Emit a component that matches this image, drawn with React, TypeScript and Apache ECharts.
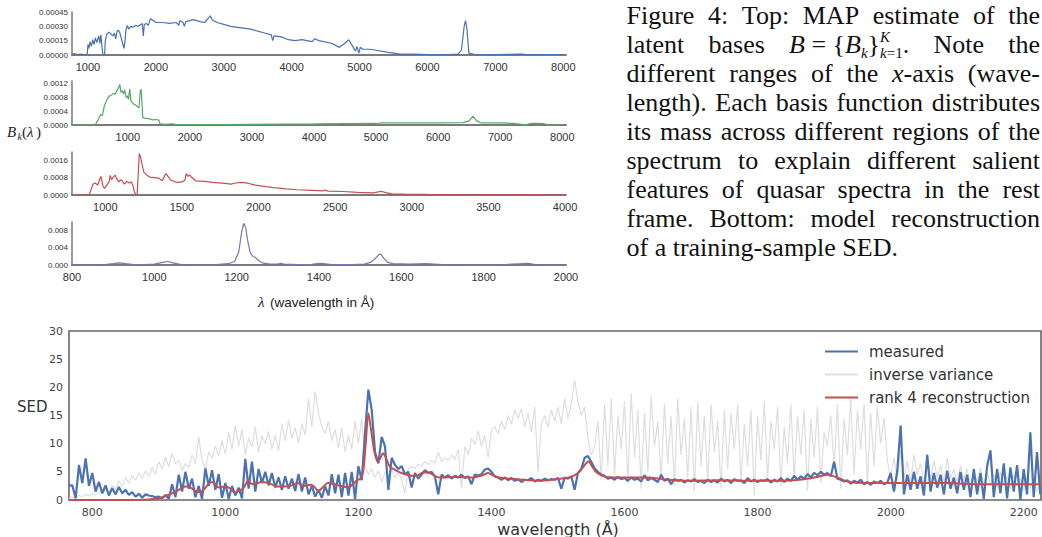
import React, { useEffect, useRef } from "react";
import * as echarts from "echarts";

// ---------------- Top panels: latent bases B_k(λ) ----------------
const basis1: number[][] = [
  [770, 0.00001], [800, 0.000015], [850, 0.000005], [900, 0.00001], [950, 0.000002], [990, 0.00001],
  [1000, 0.00011], [1015, 0.00007], [1030, 0.00014], [1050, 0.00009], [1070, 0.00016], [1090, 0.00011],
  [1110, 0.00018], [1130, 0.00013], [1160, 0.0002], [1175, 0.00012], [1190, 0.00021], [1215, 0.00003],
  [1225, 0], [1245, 0], [1255, 0.00015], [1280, 0.00022], [1310, 0.00024], [1340, 0.00022], [1370, 0.0002],
  [1390, 0.00023], [1410, 0.00017], [1430, 0.00025], [1450, 0.00026], [1470, 0.00023], [1490, 0.00018],
  [1510, 0.00012], [1530, 0.00007], [1545, 0.00014], [1560, 0.00027], [1580, 0.00031], [1600, 0.00027],
  [1630, 0.0003], [1660, 0.00029], [1700, 0.00031], [1740, 0.0003], [1780, 0.00032], [1800, 0.00033],
  [1815, 0.0002], [1830, 0.00032], [1860, 0.00033], [1890, 0.00031], [1920, 0.00038], [1960, 0.00036],
  [2000, 0.00034], [2100, 0.00034], [2200, 0.00033], [2300, 0.00034], [2340, 0.00031], [2350, 0.00036],
  [2400, 0.00034], [2420, 0.0003], [2440, 0.00035], [2500, 0.00036], [2550, 0.00037], [2650, 0.00035],
  [2720, 0.00034], [2780, 0.00039], [2800, 0.00041], [2830, 0.00037], [2900, 0.00034], [3000, 0.00032],
  [3100, 0.0003], [3200, 0.00029], [3400, 0.00027], [3600, 0.00023], [3700, 0.00021], [3720, 0.00015],
  [3740, 0.0002], [3850, 0.00019], [3950, 0.00016], [4050, 0.00015], [4150, 0.00016], [4300, 0.00014],
  [4340, 0.00017], [4400, 0.00015], [4600, 0.00012], [4700, 0.00008], [4780, 0.00012], [4840, 0.00016],
  [4900, 0.00009], [4940, 0.00004], [4960, 0.00009], [4990, 0.00002], [5010, 0.00008], [5050, 0.00006],
  [5150, 0.00006], [5250, 0.00005], [5400, 0.00003], [5600, 0.00001], [5800, 0.00001], [6000, 0.000005],
  [6300, 0.000003], [6450, 0.00001], [6500, 0.00005], [6540, 0.0003], [6560, 0.00036], [6580, 0.00028],
  [6610, 0.00002], [6700, 0.000005], [7000, 0.000003], [7400, 0.00001], [7450, 0.000003], [8000, 0.000005],
];

const basis2: number[][] = [
  [100, 0], [450, 0], [480, 0.00002], [520, 0.00015], [560, 0.0003], [590, 0.00028], [620, 0.00055],
  [650, 0.00068], [680, 0.0008], [710, 0.00085], [740, 0.00088], [770, 0.00092], [800, 0.0009],
  [820, 0.001], [850, 0.00108], [870, 0.00118], [890, 0.00095], [910, 0.001], [930, 0.0009], [950, 0.00102],
  [970, 0.0008], [990, 0.00085], [1010, 0.00075], [1030, 0.00105], [1050, 0.0007], [1070, 0.00065],
  [1100, 0.0006], [1130, 0.00058], [1160, 0.00052], [1180, 0.0005], [1200, 0.00098], [1215, 0.00104],
  [1240, 0.00022], [1270, 0.0002], [1300, 0.00019], [1350, 0.00018], [1400, 0.00015], [1450, 0.00016],
  [1500, 0.00014], [1520, 0.00003], [1600, 0.00002], [1700, 0.00003], [1800, 0.00001], [2000, 0.00001],
  [2500, 0.000015], [3000, 0.00002], [3500, 0.000025], [4000, 0.00003], [4500, 0.00004], [5000, 0.00005],
  [5020, 0.00003], [5060, 0.00006], [5500, 0.00006], [6000, 0.00006], [6400, 0.00007], [6500, 0.00012],
  [6560, 0.00026], [6620, 0.00012], [6700, 0.00006], [7000, 0.00006], [7200, 0.00005], [7350, 0.00002],
  [7420, 0.00001], [7500, 0.00005], [7600, 0.00005], [7700, 0.00004], [7760, 0.000005], [8000, 0],
];

const basis3: number[][] = [
  [783, 0], [895, 0], [905, 0.0002], [920, 0.0005], [935, 0.00055], [950, 0.00045], [965, 0.00075],
  [972, 0.00085], [985, 0.0004], [995, 0.0003], [1010, 0.00045], [1025, 0.0006], [1032, 0.0009],
  [1042, 0.0007], [1055, 0.00085], [1065, 0.0009], [1078, 0.0007], [1090, 0.0006], [1100, 0.0007],
  [1110, 0.00065], [1125, 0.0005], [1140, 0.00062], [1155, 0.00055], [1170, 0.0006], [1180, 0.00045],
  [1190, 0.00015], [1200, 0], [1208, 0], [1214, 0.0008], [1222, 0.0019], [1230, 0.00175], [1240, 0.0014],
  [1252, 0.00105], [1270, 0.00092], [1290, 0.00082], [1320, 0.0008], [1350, 0.00077], [1372, 0.00065],
  [1385, 0.00085], [1395, 0.00098], [1405, 0.0009], [1425, 0.0007], [1450, 0.00062], [1470, 0.00058],
  [1500, 0.0006], [1520, 0.00068], [1528, 0.00098], [1540, 0.00085], [1550, 0.00092], [1565, 0.0008],
  [1590, 0.00065], [1650, 0.00062], [1700, 0.00058], [1780, 0.00053], [1820, 0.0005], [1850, 0.00055],
  [1890, 0.00058], [1930, 0.00054], [1980, 0.00045], [2050, 0.00038], [2100, 0.00034], [2180, 0.00028],
  [2250, 0.00024], [2350, 0.00021], [2420, 0.00019], [2435, 0.00023], [2450, 0.00018], [2550, 0.00016],
  [2650, 0.00012], [2750, 0.0001], [2780, 0.00014], [2800, 0.00017], [2830, 0.00011], [2870, 0.00005],
  [2950, 0.00004], [3100, 0.000025], [3300, 0.000015], [3500, 0.00001], [3700, 0.000005], [4000, 0],
];

const basis4: number[][] = [
  [800, 0.00002], [850, 0.00004], [880, 0.0001], [900, 0.0003], [915, 0.0005], [930, 0.0003], [950, 0.0001],
  [975, 0.0001], [1000, 0.0002], [1020, 0.0006], [1033, 0.0008], [1045, 0.0005], [1065, 0.0001],
  [1100, 0.00005], [1150, 0.0001], [1180, 0.0003], [1195, 0.0008], [1205, 0.003], [1212, 0.0075],
  [1217, 0.0096], [1222, 0.0085], [1227, 0.0055], [1233, 0.0028], [1240, 0.0019], [1245, 0.0018],
  [1252, 0.0011], [1262, 0.0005], [1280, 0.0002], [1300, 0.0002], [1306, 0.0004], [1315, 0.0002],
  [1350, 0.00008], [1380, 0.0001], [1400, 0.0004], [1410, 0.0003], [1430, 0.0001], [1480, 0.0001],
  [1510, 0.0002], [1525, 0.0006], [1535, 0.0013], [1545, 0.0024], [1550, 0.0025], [1557, 0.0016],
  [1567, 0.0006], [1580, 0.0003], [1620, 0.0002], [1660, 0.0003], [1700, 0.0001], [1800, 0.00005],
  [1850, 0.0001], [1890, 0.0003], [1908, 0.0004], [1925, 0.0001], [1960, 0.00003], [2000, 0.00002],
];

const basisXTicks: number[][] = [
  [1000, 2000, 3000, 4000, 5000, 6000, 7000, 8000],
  [1000, 2000, 3000, 4000, 5000, 6000, 7000, 8000],
  [1000, 1500, 2000, 2500, 3000, 3500, 4000],
  [800, 1000, 1200, 1400, 1600, 1800, 2000],
];
const basisYTicks: number[][] = [
  [0, 0.00015, 0.0003, 0.00045],
  [0, 0.0004, 0.0008, 0.0012],
  [0, 0.0008, 0.0016],
  [0, 0.004, 0.008],
];
const basisYDecimals = [5, 4, 4, 3];
const basisXRange: number[][] = [[765, 8040], [100, 8060], [783, 4006], [800, 2000]];
const basisYMax = [0.00045, 0.00128, 0.00197, 0.0099];

// ---------------- Bottom panel: SED reconstruction ----------------
const sedStart = 765;
const sedStep = 5;
const measured: number[] = [
  2.6, 2.6, 0.3, 6.2, 3.0, 7.4, 2.5, 4.8, 1.5, 3.2,
  1.2, 2.6, 0.8, 2.1, 1.0, 2.3, 1.2, 1.8, 0.9, 1.4,
  0.6, 1.1, 0.4, 1.0, 0.8, 0.7, 0.5, 0.6, 0.3, 0.9,
  0.2, 2.8, 0.5, 4.5, 1.5, 5.0, 2.0, 3.8, 0.5, 2.5,
  0.2, 5.6, 2.5, 5.3, 1.8, 4.6, 0.4, 3.0, 0.2, 2.5,
  0.8, 2.2, 0.3, 7.3, 2.0, 6.8, 1.5, 5.5, 3.0, 5.0,
  2.6, 4.8, 2.2, 4.0, 1.8, 4.2, 2.0, 3.8, 1.6, 4.6,
  1.5, 4.0, 1.0, 2.5, 0.6, 1.8, 0.4, 2.4, 0.8, 4.6,
  1.2, 4.5, 0.5, 4.8, 0.8, 5.0, 0.2, 6.0, 3.5, 12.0,
  19.6, 16.0, 8.5, 6.5, 11.2, 9.5, 1.8, 7.5, 6.2, 5.5,
  6.0, 4.6, 5.0, 2.2, 4.8, 3.8, 4.5, 5.3, 4.8, 5.0,
  4.2, 1.0, 4.5, 4.0, 4.4, 3.8, 4.3, 4.0, 4.5, 3.9,
  4.2, 2.8, 4.5, 4.3, 4.6, 5.4, 5.6, 5.0, 4.2, 4.0,
  3.6, 4.0, 3.5, 3.9, 3.4, 3.7, 3.2, 3.6, 3.5, 3.9,
  3.3, 3.6, 3.4, 3.8, 3.5, 3.7, 3.6, 3.9, 2.0, 4.0,
  3.8, 4.2, 1.8, 4.8, 5.5, 7.5, 7.8, 6.8, 5.6, 5.0,
  4.5, 4.3, 3.8, 4.0, 3.6, 4.1, 3.7, 3.9, 3.4, 4.0,
  3.6, 3.8, 3.3, 4.4, 3.5, 3.9, 3.6, 3.2, 4.5, 3.4,
  3.8, 2.8, 3.7, 3.4, 3.6, 3.1, 3.5, 3.3, 3.7, 3.2,
  3.4, 3.0, 3.6, 3.2, 3.5, 3.1, 3.8, 3.3, 3.6, 3.0,
  3.7, 3.4, 3.5, 3.0, 3.9, 3.3, 3.6, 3.2, 3.5, 3.4,
  3.7, 3.1, 3.6, 3.3, 3.9, 3.2, 3.8, 3.4, 4.3, 3.6,
  4.2, 3.8, 4.6, 4.0, 4.8, 4.4, 5.0, 4.5, 4.8, 4.2,
  6.8, 3.8, 3.6, 3.3, 3.5, 2.9, 3.4, 3.1, 3.6, 2.8,
  3.2, 2.7, 3.3, 3.0, 3.4, 2.8, 3.1, 4.8, 1.5, 5.2,
  13.2, 1.0, 4.5, 1.8, 5.0, 2.0, 4.2, 0.8, 8.0, 1.5,
  4.8, 2.2, 4.5, 1.0, 5.2, 2.0, 4.0, 1.2, 5.0, 1.8,
  4.5, 0.5, 5.5, 1.0, 4.8, 0.2, 6.0, 8.8, 0.5, 5.5,
  1.2, 6.5, 0.3, 5.8, 1.5, 6.2, 0.0, 5.5, 1.0, 12.0,
  0.5, 8.5, 1.0,
];
const inverseVariance: number[] = [
  0.3, 0.5, 0.4, 0.8, 0.6, 1.0, 0.7, 1.2, 0.9, 1.5,
  1.1, 1.8, 1.4, 2.6, 1.9, 3.4, 2.4, 4.0, 3.0, 4.4,
  3.5, 4.8, 3.8, 5.2, 4.2, 5.8, 4.6, 6.8, 5.5, 7.6,
  5.9, 8.2, 6.4, 7.0, 5.2, 6.5, 5.8, 8.0, 6.4, 11.2,
  7.0, 5.5, 8.5, 7.4, 9.6, 7.8, 10.5, 8.2, 12.0, 9.0,
  13.2, 9.5, 12.5, 8.0, 11.0, 9.4, 13.0, 8.5, 11.4, 10.0,
  12.2, 9.0, 11.5, 8.8, 13.5, 10.5, 14.2, 11.0, 12.8, 10.2,
  13.6, 11.5, 18.0, 13.0, 19.3, 15.5, 13.0, 11.8, 14.0, 10.5,
  12.5, 9.2, 12.8, 8.5, 11.5, 9.0, 14.0, 10.0, 14.5, 6.0,
  4.5, 5.5, 4.0, 5.2, 3.2, 5.0, 4.2, 5.4, 4.0, 5.0,
  3.5, 1.2, 5.5, 6.0, 5.6, 6.4, 6.0, 6.8, 6.3, 7.0,
  6.6, 8.5, 6.8, 7.5, 7.0, 8.0, 7.2, 9.0, 2.0, 9.5,
  8.0, 11.0, 9.8, 12.3, 9.5, 11.5, 7.5, 12.5, 13.0, 11.8,
  14.0, 12.5, 15.0, 13.5, 16.0, 14.5, 16.2, 13.0, 15.5, 12.0,
  16.5, 5.0, 13.5, 15.0, 13.0, 16.0, 14.0, 16.5, 13.5, 18.0,
  14.5, 17.0, 21.3, 17.5, 15.0, 16.5, 11.0, 8.0, 9.5, 14.0,
  3.5, 17.0, 6.0, 18.0, 4.5, 15.0, 9.0, 17.5, 3.0, 19.0,
  7.5, 16.0, 2.0, 15.5, 5.0, 18.5, 9.5, 14.0, 3.5, 17.0,
  6.5, 15.0, 2.5, 18.0, 8.0, 14.5, 4.0, 16.5, 1.5, 17.5,
  6.0, 15.0, 3.0, 17.0, 8.5, 14.0, 2.0, 16.0, 5.5, 15.5,
  9.0, 17.0, 3.0, 13.5, 6.0, 16.0, 0.8, 15.0, 7.0, 17.5,
  3.5, 14.0, 9.0, 16.5, 2.5, 13.0, 6.5, 17.0, 4.0, 15.0,
  8.0, 16.0, 1.5, 14.5, 7.5, 16.5, 3.0, 12.0, 9.5, 15.0,
  5.5, 17.0, 2.0, 14.5, 8.0, 18.0, 4.5, 16.0, 9.0, 17.0,
  3.0, 15.5, 6.0, 16.5, 10.0, 14.5, 7.0, 4.0, 7.5, 3.5,
  8.6, 4.0, 7.0, 3.0, 8.0, 4.5, 6.5, 2.8, 8.2, 3.5,
  7.0, 4.0, 6.2, 3.0, 7.5, 3.8, 5.5, 3.2, 6.0, 3.5,
  5.5, 2.8, 5.0, 3.2, 5.8, 2.5, 4.8, 3.0, 4.5, 2.2,
  5.0, 2.8, 4.2, 2.0, 4.6, 2.5, 3.8, 1.8, 4.0, 2.2,
  3.5, 1.5, 3.0,
];
const reconWavelength: number[] = [
  765, 800, 850, 880, 900, 910, 920, 930, 940, 945, 950, 955, 962, 968, 975, 980, 985, 990, 1000, 1008,
  1014, 1020, 1028, 1034, 1039, 1044, 1054, 1065, 1079, 1090, 1100, 1109, 1118, 1129, 1134, 1140, 1147,
  1154, 1162, 1169, 1178, 1184, 1190, 1197, 1203, 1207, 1211, 1215, 1219, 1224, 1229, 1233, 1237, 1241,
  1247, 1257, 1267, 1280, 1290, 1297, 1305, 1313, 1322, 1347, 1372, 1387, 1395, 1402, 1410, 1437, 1460,
  1472, 1497, 1517, 1525, 1532, 1540, 1546, 1551, 1557, 1565, 1572, 1597, 1637, 1657, 1697, 1742, 1785,
  1835, 1870, 1890, 1905, 1915, 1935, 1960, 2010, 2085, 2135, 2185, 2226,
];
const reconValue: number[] = [
  0, 0, 0, 0.05, 0.3, 0.7, 1.2, 1.8, 2.4, 2.4, 2.0, 1.6, 1.4, 1.9, 2.9, 3.2, 2.8, 2.2, 2.4, 2.0,
  1.3, 1.6, 2.2, 3.4, 2.9, 2.8, 3.2, 3.0, 2.4, 2.4, 2.6, 3.0, 2.5, 2.7, 2.3, 1.6, 2.3,
  3.0, 2.9, 2.6, 2.4, 2.2, 2.6, 3.4, 3.8, 5.0, 10.0, 15.4, 12.5, 8.6, 6.8, 7.4, 8.3, 7.6,
  6.0, 5.2, 4.7, 4.3, 4.4, 4.9, 4.9, 4.4, 4.0, 4.1, 4.0, 4.4, 4.8, 4.4, 4.0, 3.7, 3.5,
  3.4, 3.7, 4.0, 4.4, 5.0, 6.2, 6.9, 6.0, 5.0, 4.4, 4.1, 4.0, 4.0, 3.7, 3.4, 3.5, 3.4,
  3.4, 3.7, 4.1, 4.5, 4.2, 3.3, 3.0, 3.0, 3.0, 2.8, 2.8, 2.8,
];
const sedXTicks = [800, 1000, 1200, 1400, 1600, 1800, 2000, 2200];
const seriesNames = ["measured", "inverse variance", "rank 4 reconstruction"];

// ---------------- Caption ----------------
const captionLines: string[] = [
  "Figure 4: Top: MAP estimate of the",
  "latent bases $MATH$ Note the",
  "different ranges of the $x$-axis (wave-",
  "length). Each basis function distributes",
  "its mass across different regions of the",
  "spectrum to explain different salient",
  "features of quasar spectra in the rest",
  "frame. Bottom: model reconstruction",
  "of a training-sample SED.",
];

const SERIF = "Liberation Serif";
const SANS = "Liberation Sans";
const DEJAVU = "DejaVu Sans";

type Seg = { t?: string; it?: boolean; sz?: number; dy?: number; sup?: Seg[]; sub?: Seg[] };

const CAP = 26;
const SM = 15;
const mathSegs: Seg[] = [
  { t: "B", it: true },
  { t: " = " },
  { t: "{" },
  { t: "B", it: true },
  { t: "k", it: true, sz: SM, dy: 4 },
  { t: "}" },
  {
    sup: [{ t: "K", it: true, sz: SM, dy: -11.5 }],
    sub: [{ t: "k", it: true, sz: SM, dy: 4 }, { t: "=1", sz: SM, dy: 4 }],
  },
  { t: "." },
];

function tokenSegs(tok: string): Seg[] {
  if (tok === "$MATH$") return mathSegs;
  if (tok.startsWith("$x$")) return [{ t: "x", it: true }, { t: tok.slice(3) }];
  return [{ t: tok }];
}

function buildCaption(): any[] {
  const canvas = document.createElement("canvas");
  const ctx = canvas.getContext("2d") as CanvasRenderingContext2D;
  const meas = (t: string, it?: boolean, sz?: number) => {
    ctx.font = `${it ? "italic " : ""}${sz || CAP}px "${SERIF}"`;
    return ctx.measureText(t).width;
  };
  const runWidth = (segs: Seg[]) => segs.reduce((s, g) => s + meas(g.t || "", g.it, g.sz), 0);
  const segWidth = (g: Seg) =>
    g.sup || g.sub ? Math.max(runWidth(g.sup || []), runWidth(g.sub || [])) : meas(g.t || "", g.it, g.sz);
  const tokWidth = (segs: Seg[]) => segs.reduce((s, g) => s + segWidth(g), 0);

  const L = 626.5;
  const R = 1040;
  const base0 = 24.8;
  const lead = 28.9;
  const els: any[] = [];
  const emit = (g: Seg, x: number, baseline: number) => {
    const sz = g.sz || CAP;
    els.push({
      type: "text",
      x,
      y: baseline + (g.dy || 0) - 0.34 * sz,
      silent: true,
      style: {
        text: g.t,
        fontSize: sz,
        lineHeight: sz === CAP ? 19 : 11,
        fontFamily: SERIF,
        fontStyle: g.it ? "italic" : "normal",
        fill: "#111",
        align: "left",
        verticalAlign: "middle",
      },
    });
  };
  captionLines.forEach((line, li) => {
    const toks = line.split(" ").map(tokenSegs);
    const widths = toks.map(tokWidth);
    const total = widths.reduce((a, b) => a + b, 0);
    const last = li === captionLines.length - 1;
    const gap = last ? meas(" ") : (R - L - total) / (toks.length - 1);
    const baseline = base0 + lead * li;
    let x = L;
    toks.forEach((segs, ti) => {
      let cx = x;
      segs.forEach((g) => {
        if (g.sup || g.sub) {
          let sx = cx;
          (g.sup || []).forEach((s) => {
            emit(s, sx, baseline);
            sx += meas(s.t || "", s.it, s.sz);
          });
          sx = cx;
          (g.sub || []).forEach((s) => {
            emit(s, sx, baseline);
            sx += meas(s.t || "", s.it, s.sz);
          });
          cx += segWidth(g);
        } else {
          emit(g, cx, baseline);
          cx += segWidth(g);
        }
      });
      x += widths[ti] + gap;
    });
  });
  return els;
}

const topGrids = [
  { left: 72, top: 12, width: 494, height: 43 },
  { left: 72, top: 81, width: 494, height: 44 },
  { left: 72, top: 152, width: 494, height: 43 },
  { left: 72, top: 222, width: 494, height: 43 },
];
const basisColors = ["#4c72b0", "#55a868", "#c44e52", "#8172b2"];
const basisData = [basis1, basis2, basis3, basis4];

export default function App() {
  const ref = useRef<HTMLDivElement>(null);
  useEffect(() => {
    if (!ref.current) return;
    document.body.style.margin = "0";
    const chart = echarts.init(ref.current, undefined, { renderer: "svg" });

    const grids: any[] = topGrids.map((g) => ({ ...g, containLabel: false }));
    grids.push({
      left: 69,
      top: 331,
      width: 972,
      height: 169,
      show: true,
      borderColor: "#666",
      borderWidth: 1.6,
      backgroundColor: "transparent",
    });

    const plain = (v: number) => String(v);

    const xAxes: any[] = basisXRange.map((r, i) => ({
      type: "value",
      gridIndex: i,
      min: r[0],
      max: r[1],
      axisLine: { show: true, onZero: false, lineStyle: { color: "#7a7a7a", width: 2 } },
      axisTick: { show: false },
      splitLine: { show: false },
      axisLabel: {
        customValues: basisXTicks[i],
        formatter: plain,
        fontSize: 11,
        fontFamily: SANS,
        color: "#333",
        margin: 6,
      },
    }));
    xAxes.push({
      type: "value",
      gridIndex: 4,
      min: 765,
      max: 2226,
      axisLine: { show: false },
      axisTick: { show: false },
      splitLine: { show: false },
      axisLabel: { customValues: sedXTicks, formatter: plain, fontSize: 11, fontFamily: DEJAVU, color: "#444", margin: 7 },
    });

    const yAxes: any[] = basisYMax.map((m, i) => ({
      type: "value",
      gridIndex: i,
      min: 0,
      max: m,
      axisLine: { show: true, lineStyle: { color: "#7a7a7a", width: 1.5 } },
      axisTick: { show: false },
      splitLine: { show: false },
      axisLabel: {
        customValues: basisYTicks[i],
        formatter: (v: number) => v.toFixed(basisYDecimals[i]),
        fontSize: 8,
        fontFamily: SANS,
        color: "#333",
        margin: 4,
      },
    }));
    yAxes.push({
      type: "value",
      gridIndex: 4,
      min: 0,
      max: 30,
      interval: 5,
      axisLine: { show: false },
      axisTick: { show: false },
      splitLine: { show: false },
      axisLabel: { fontSize: 11, fontFamily: DEJAVU, color: "#444", margin: 6 },
    });

    const series: any[] = basisData.map((d, i) => ({
      name: "B" + (i + 1),
      type: "line",
      xAxisIndex: i,
      yAxisIndex: i,
      data: d,
      symbol: "none",
      lineStyle: { color: basisColors[i], width: 1.2 },
      itemStyle: { color: basisColors[i] },
    }));
    const sedX = (i: number) => sedStart + sedStep * i;
    series.push({
      name: seriesNames[1],
      type: "line",
      xAxisIndex: 4,
      yAxisIndex: 4,
      data: inverseVariance.map((v, i) => [sedX(i), v]),
      symbol: "none",
      z: 1,
      lineStyle: { color: "#dedede", width: 1.2 },
      itemStyle: { color: "#dedede" },
    });
    series.push({
      name: seriesNames[0],
      type: "line",
      xAxisIndex: 4,
      yAxisIndex: 4,
      data: measured.map((v, i) => [sedX(i), v]),
      symbol: "none",
      z: 2,
      lineStyle: { color: "#4c72b0", width: 2.2 },
      itemStyle: { color: "#4c72b0" },
    });
    series.push({
      name: seriesNames[2],
      type: "line",
      xAxisIndex: 4,
      yAxisIndex: 4,
      data: reconWavelength.map((w, i) => [w, reconValue[i]]),
      symbol: "none",
      smooth: 0.3,
      z: 3,
      lineStyle: { color: "#c44e52", width: 2 },
      itemStyle: { color: "#c44e52" },
    });

    const graphics: any[] = buildCaption();
    graphics.push(
      { type: "text", x: 7, y: 132, silent: true, style: { text: "B", fontSize: 15, fontFamily: SERIF, fontStyle: "italic", fill: "#222", verticalAlign: "middle" } },
      { type: "text", x: 17.5, y: 136, silent: true, style: { text: "k", fontSize: 10, fontFamily: SERIF, fontStyle: "italic", fill: "#222", verticalAlign: "middle" } },
      { type: "text", x: 22, y: 132, silent: true, style: { text: "(", fontSize: 15, fontFamily: SERIF, fill: "#222", verticalAlign: "middle" } },
      { type: "text", x: 27, y: 132, silent: true, style: { text: "λ", fontSize: 15, fontFamily: SERIF, fontStyle: "italic", fill: "#222", verticalAlign: "middle" } },
      { type: "text", x: 36, y: 132, silent: true, style: { text: ")", fontSize: 15, fontFamily: SERIF, fill: "#222", verticalAlign: "middle" } },
      { type: "text", x: 258, y: 302, silent: true, style: { text: "λ", fontSize: 15, fontFamily: SERIF, fontStyle: "italic", fill: "#222", verticalAlign: "middle" } },
      { type: "text", x: 270, y: 302, silent: true, style: { text: "(wavelength in Å)", fontSize: 13.5, fontFamily: SANS, fill: "#222", verticalAlign: "middle" } },
      { type: "text", x: 17, y: 407, silent: true, style: { text: "SED", fontSize: 15, fontFamily: DEJAVU, fill: "#333", verticalAlign: "middle" } },
      { type: "text", x: 558, y: 529, silent: true, style: { text: "wavelength (Å)", fontSize: 16, fontFamily: DEJAVU, fill: "#333", align: "center", verticalAlign: "middle" } }
    );

    chart.setOption({
      animation: false,
      backgroundColor: "#ffffff",
      grid: grids,
      xAxis: xAxes,
      yAxis: yAxes,
      series,
      legend: {
        data: seriesNames.map((n) => ({ name: n, icon: "rect" })),
        orient: "vertical",
        left: 825,
        top: 344,
        itemWidth: 33,
        itemHeight: 2,
        itemGap: 8,
        padding: 0,
        textStyle: { fontSize: 15, fontFamily: DEJAVU, color: "#333", padding: [0, 0, 0, 6] },
      },
      graphic: graphics,
    });
    return () => chart.dispose();
  }, []);
  return <div ref={ref} style={{ position: "fixed", left: 0, top: 0, width: 1042, height: 537 }} />;
}
